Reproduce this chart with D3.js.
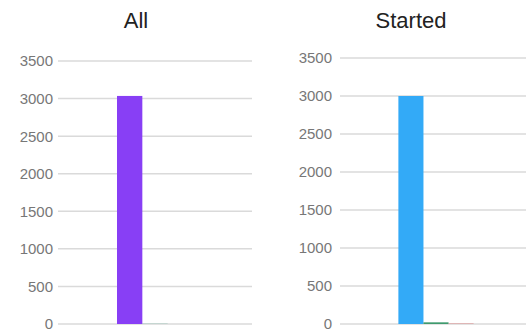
<!DOCTYPE html>
<html>
<head>
<meta charset="utf-8">
<script src="https://cdn.jsdelivr.net/npm/d3@7"></script>
<style>
	body { margin: 0; background: #fff; }
	svg { display: block; }
</style>
</head>
<body>
<div id="chart"></div>
<script>
	'use strict';
	// chart data
	var chartTitles = ['All', 'Started'];
	var seriesNames = ['total', 'second', 'third'];
	var allValues = [3035, 4, 0];
	var startedValues = [3000, 22, 6];
	var yTicks = [0, 500, 1000, 1500, 2000, 2500, 3000, 3500];
	var allColors = ['#883ff5', '#7fb8a8', '#e08a8a'];
	var startedColors = ['#33aaf7', '#3f9a6e', '#d98080'];

	var panels = [
		{title: chartTitles[0], values: allValues, colors: allColors, left: 58, right: 252, top: 61, titleX: 136, labelX: 53},
		{title: chartTitles[1], values: startedValues, colors: startedColors, left: 340, right: 532, top: 58, titleX: 411, labelX: 332}
	];
	var bottom = 324;

	var svg = d3.select('#chart')
		.append('svg')
		.attr('width', 526)
		.attr('height', 331);

	panels.forEach(function (p) {
		var g = svg.append('g');

		var y = d3.scaleLinear()
			.domain([0, 3500])
			.range([bottom, p.top]);

		// one group of bars in the middle of the plot
		var x0 = d3.scaleBand()
			.domain(['group'])
			.range([p.left, p.right])
			.padding(0.437);
		var x1 = d3.scaleBand()
			.domain(seriesNames)
			.range([x0('group'), x0('group') + x0.bandwidth()]);

		// gridlines
		g.selectAll('line.grid')
			.data(yTicks)
			.enter()
			.append('line')
			.attr('class', 'grid')
			.attr('x1', p.left)
			.attr('x2', p.right)
			.attr('y1', function (d) { return y(d); })
			.attr('y2', function (d) { return y(d); })
			.attr('stroke', '#dadada')
			.attr('stroke-width', 1.5);

		// tick labels
		g.selectAll('text.tick')
			.data(yTicks)
			.enter()
			.append('text')
			.attr('class', 'tick')
			.attr('x', p.labelX)
			.attr('y', function (d) { return y(d); })
			.attr('dy', '0.36em')
			.attr('text-anchor', 'end')
			.attr('font-family', 'Arial, "Liberation Sans", sans-serif')
			.attr('font-size', '15px')
			.attr('fill', '#777')
			.text(function (d) { return d; });

		// bars
		g.selectAll('rect.bar')
			.data(p.values)
			.enter()
			.append('rect')
			.attr('class', 'bar')
			.attr('x', function (d, i) { return x1(seriesNames[i]); })
			.attr('width', x1.bandwidth())
			.attr('y', function (d) { return y(d); })
			.attr('height', function (d) { return bottom - y(d); })
			.attr('fill', function (d, i) { return p.colors[i]; });

		// title
		g.append('text')
			.attr('x', p.titleX)
			.attr('y', 28)
			.attr('text-anchor', 'middle')
			.attr('font-family', 'Arial, "Liberation Sans", sans-serif')
			.attr('font-size', '22px')
			.attr('fill', '#222')
			.text(p.title);
	});
</script>
</body>
</html>
